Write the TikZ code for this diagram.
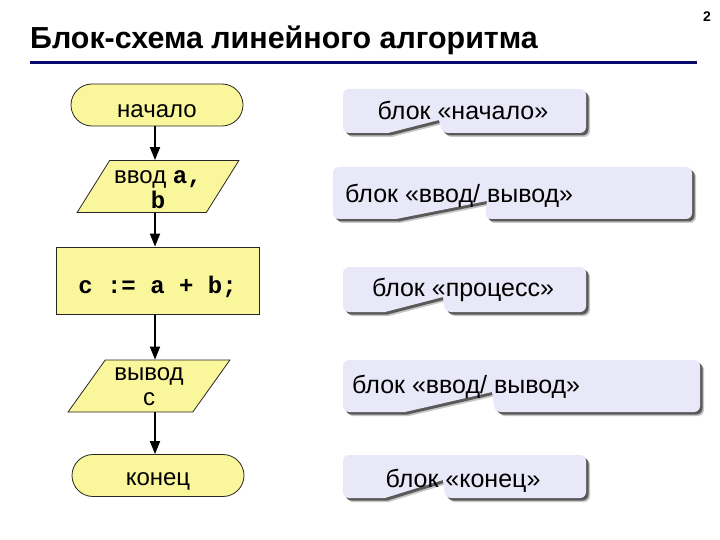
\documentclass[tikz,border=0pt]{standalone}
\usepackage{fontspec}
\setmainfont{Liberation Sans}
\setmonofont{Liberation Mono}
\usetikzlibrary{shapes.geometric,shapes.misc,arrows.meta}
\definecolor{flowyel}{RGB}{250,246,155}
\definecolor{lav}{RGB}{232,232,248}
\definecolor{navyline}{RGB}{10,10,110}
\newcommand\mono[1]{{\ttfamily\bfseries #1}}
\newcommand\dn[2]{\raisebox{-#1}[\height][\depth]{#2}}
\newcommand\twoline[2]{\begin{tabular}{@{}c@{}}#1\\#2\end{tabular}}
\newcommand\calbox[8]{% L T R B notchL tipx tipy vx
  \begin{scope}[shift={(4,4)}]
    \fill[black!22] (#5,#4) [rounded corners=6pt] -- (#1,#4) -- (#1,#2) -- (#3,#2) -- (#3,#4) -- (#8,#4) [sharp corners] -- (#6,#7) -- cycle;
  \end{scope}
  \begin{scope}[shift={(2.5,2.5)}]
    \fill[black!65] (#5,#4) [rounded corners=6pt] -- (#1,#4) -- (#1,#2) -- (#3,#2) -- (#3,#4) -- (#8,#4) [sharp corners] -- (#6,#7) -- cycle;
  \end{scope}
  \fill[lav] (#5,#4) [rounded corners=6pt] -- (#1,#4) -- (#1,#2) -- (#3,#2) -- (#3,#4) -- (#8,#4) [sharp corners] -- (#6,#7) -- cycle;
}
\begin{document}
\begin{tikzpicture}[x=1pt,y=-1pt,
  base/.style={draw=black!85, line width=0.8pt, fill=flowyel, font=\fontsize{24}{25.5}\selectfont, inner sep=0pt, align=center},
  term/.style={base, rounded rectangle, minimum width=172pt, minimum height=42pt},
  io/.style={base, trapezium, trapezium left angle=60, trapezium right angle=120, trapezium stretches=true, minimum width=162pt, minimum height=52pt},
  proc/.style={base, rectangle, minimum width=203pt, minimum height=67pt},
  arr/.style={line width=1.8pt, -{Triangle[length=13pt,width=10pt]}},
  ctext/.style={font=\fontsize{25}{28}\selectfont, inner sep=0pt}
]
\useasboundingbox (0,0) rectangle (720,540);

% title
\node[anchor=base west, font=\bfseries\fontsize{30.4}{36}\selectfont, inner sep=0pt] (title) at (30,49) {Блок-схема линейного алгоритма};
\draw[navyline, line width=3pt] (30,63) -- (697,63);
\node[font=\bfseries\fontsize{14}{16}\selectfont, inner sep=0pt] (pg) at (707,17) {2};

% flowchart
\node[term] (start) at (157,105) {\dn{6pt}{начало}};
\node[io] (in) at (158,186.5) {\dn{4.5pt}{\twoline{ввод \mono{a,}}{\mono{b}}}};
\node[proc] (calc) at (157.5,280.5) {\dn{6pt}{\mono{c := a + b;}}};
\node[io] (out) at (149,386) {\dn{2pt}{\twoline{вывод}{c}}};
\node[term] (end) at (158,475.5) {\dn{6pt}{конец}};

\draw[arr] (155,126) coordinate (a1) -- (a1 |- in.north);
\draw[arr] (155,213) coordinate (a2) -- (a2 |- calc.north);
\draw[arr] (155,314) coordinate (a3) -- (a3 |- out.north);
\draw[arr] (155,412) coordinate (a4) -- (a4 |- end.north);

% callouts
\calbox{343}{89}{586}{133}{388}{439}{120}{442}
\node[ctext] (c1) at (463,110) {блок «начало»};

\calbox{333}{167}{692}{219}{396}{487}{201}{485}
\node[ctext, anchor=west] (c2) at (345,195.5) {блок «ввод/ вывод»};

\calbox{343}{267}{586}{312}{385}{443}{297}{445}
\node[ctext] (c3) at (463,290) {блок «процесс»};

\calbox{343}{360}{700}{412}{405}{492}{392}{495}
\node[ctext, anchor=west] (c4) at (352,386.5) {блок «ввод/ вывод»};

\calbox{343}{455}{586}{498}{385}{443}{480}{445}
\node[ctext] (c5) at (463,480.5) {блок «конец»};
\end{tikzpicture}
\end{document}
